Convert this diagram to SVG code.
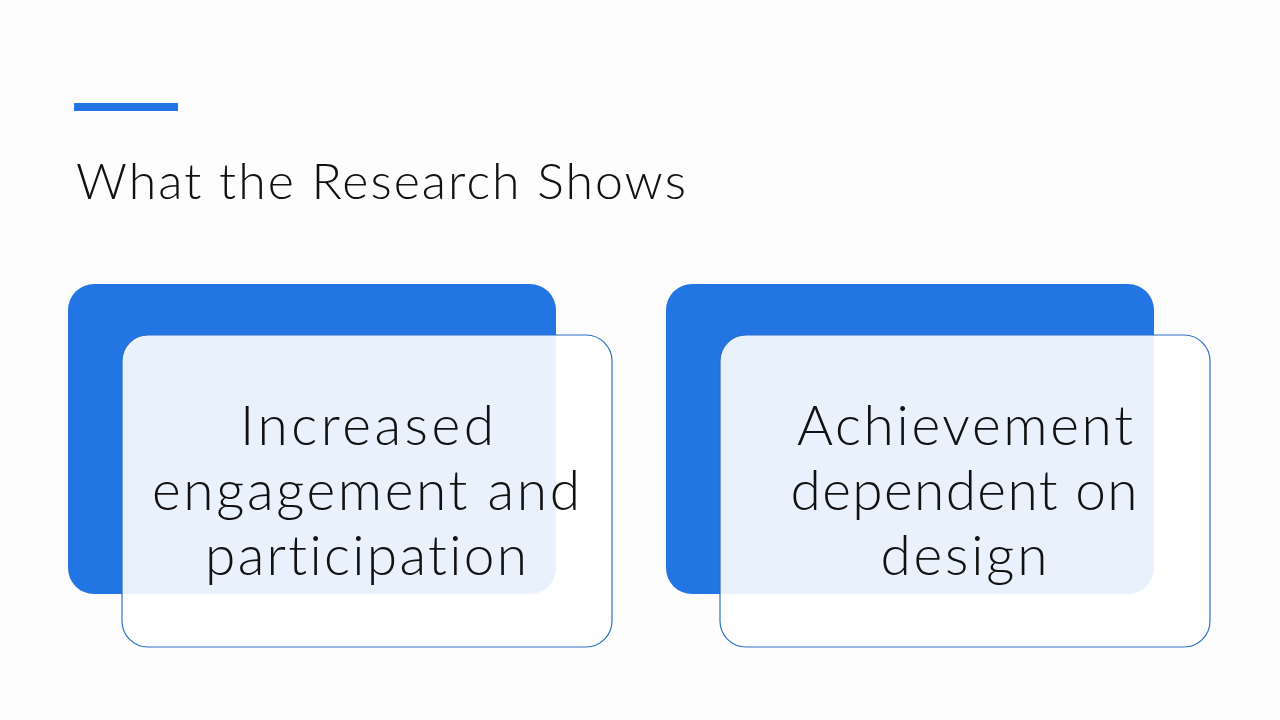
<svg xmlns="http://www.w3.org/2000/svg" width="1280" height="720" viewBox="0 0 1280 720">
<style>
.back{fill:#2275e2}
.front{fill:#ffffff;fill-opacity:0.9;stroke:#2a6fc4;stroke-width:1.2}
text{font-family:Lato,"Liberation Sans",sans-serif;font-weight:300;fill:#111;font-variant-ligatures:none}
.t{text-anchor:middle;font-size:55px}
</style>
<rect width="1280" height="720" fill="#fdfdfd"/>
<rect x="74" y="103" width="104" height="8" fill="#2275e2"/>
<text x="76" y="199" font-size="50" textLength="610" lengthAdjust="spacing">What the Research Shows</text>
<g id="card1">
<rect class="back" x="68" y="284" width="488" height="310" rx="26"/>
<rect class="front" x="122" y="335" width="490" height="312" rx="26"/>
<text class="t" x="367" y="445" textLength="254" lengthAdjust="spacing">Increased</text>
<text class="t" x="366" y="510" textLength="428" lengthAdjust="spacing">engagement and</text>
<text class="t" x="366" y="575" textLength="322" lengthAdjust="spacing">participation</text>
</g>
<g id="card2">
<rect class="back" x="666" y="284" width="488" height="310" rx="26"/>
<rect class="front" x="720" y="335" width="490" height="312" rx="26"/>
<text class="t" x="965" y="445" textLength="336" lengthAdjust="spacing">Achievement</text>
<text class="t" x="964" y="510" textLength="347" lengthAdjust="spacing">dependent on</text>
<text class="t" x="964" y="575" textLength="167" lengthAdjust="spacing">design</text>
</g>
<g id="connectors"/>
</svg>
